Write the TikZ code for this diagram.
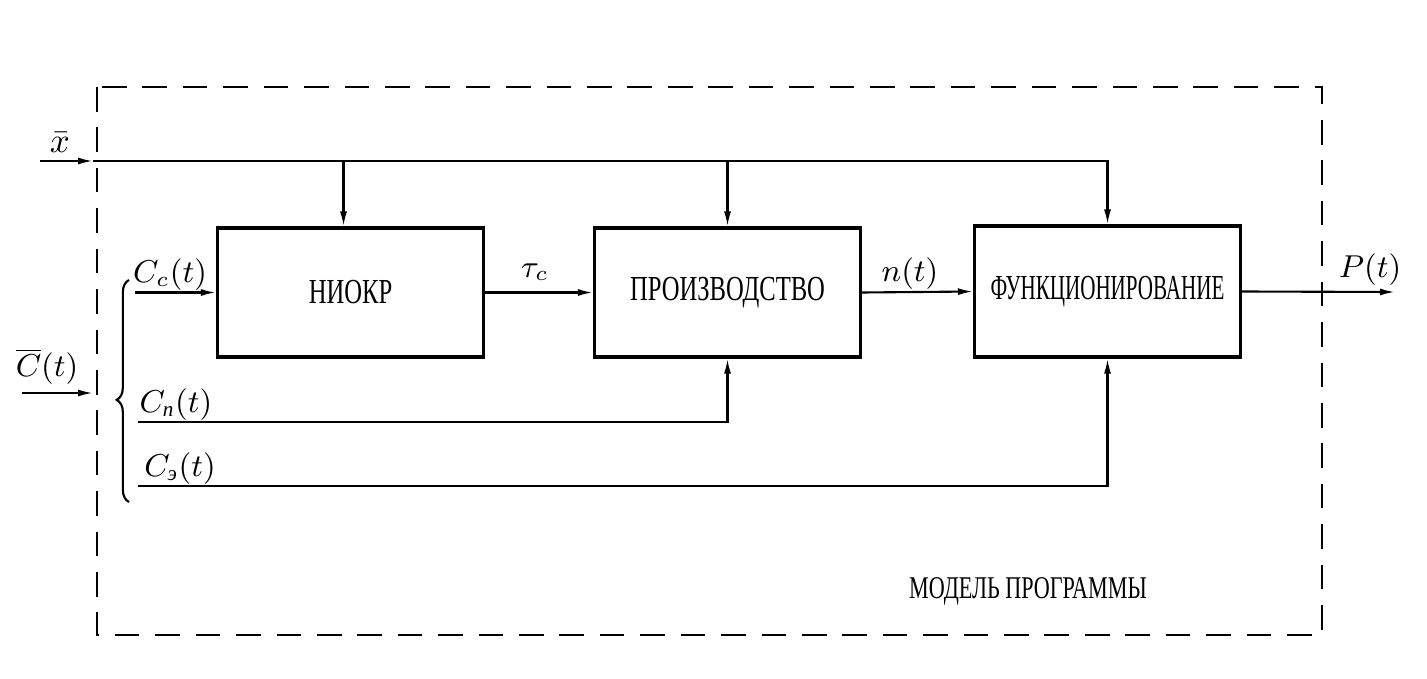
\documentclass[tikz,border=0pt]{standalone}
\usepackage{fontspec}
\usepackage{amsmath}
\setmainfont{Liberation Serif}
\newfontfamily\boxfont{Liberation Serif}[FakeStretch=0.7]
\newfontfamily\narrowfont{Liberation Serif}[FakeStretch=0.6]
\usetikzlibrary{arrows.meta,decorations.pathreplacing}

\begin{document}
\begin{tikzpicture}[
    block/.style = { draw, line width=0.9pt, minimum width=2.66cm, minimum height=1.29cm, font=\boxfont\fontsize{10}{12}\selectfont },
    line/.style = { line width=0.6pt },
    arr/.style = { line width=0.6pt, -{Latex[length=1.5mm,width=0.7mm]} },
    lab/.style = { font=\fontsize{9}{10}\selectfont, inner sep=1pt },
    ]

    \useasboundingbox (0,0) rectangle (14.27,6.78);

    % frame
    \draw[line width=0.7pt, dash pattern=on 7pt off 4.5pt] (0.97,5.91) rectangle (13.22,0.43);
    \node[font=\boxfont\fontsize{9}{10}\selectfont] (model) at (10.28,0.87) {МОДЕЛЬ ПРОГРАММЫ};

    % blocks
    \node[block] (niokr) at (3.505,3.855) {НИОКР};
    \node[block] (proizv) at (7.275,3.855) {ПРОИЗВОДСТВО};
    \node[block, minimum height=1.31cm, font=\narrowfont\fontsize{10}{12}\selectfont] (funk) at (11.075,3.865) {ФУНКЦИОНИРОВАНИЕ};

    % input x
    \coordinate (xin) at (0.40,5.17);
    \coordinate (xfr) at (0.93,5.17);
    \draw[arr] (xin) -- (xfr);
    \draw[arr] (xfr) -- (funk.north |- xin) -- (funk.north);
    \draw[arr] ([xshift=-0.07cm]niokr.north |- xin) -- ([xshift=-0.07cm]niokr.north);
    \draw[arr] (proizv.north |- xin) -- (proizv.north);
    \node[lab, font=\fontsize{10}{12}\selectfont] (lx) at (0.60,5.35) {$\bar{x}$};

    % input costs
    \coordinate (cin) at (0.22,2.85);
    \coordinate (cfr) at (0.93,2.85);
    \draw[arr] (cin) -- (cfr);
    \node[lab, anchor=south] (lc) at (0.47,2.89) {$\overline{C}(t)$};
    \coordinate (bb) at (1.29,1.76);
    \coordinate (bt) at (1.29,3.98);
    \draw[line, decorate, decoration={brace, amplitude=3.5pt, aspect=0.46}] (bb) -- (bt);

    % chain
    \coordinate (ccin) at (1.35,3.855);
    \draw[arr] (ccin) -- (niokr.west);
    \node[lab] (lcc) at (1.70,4.03) {$C_c(t)$};
    \draw[arr] (niokr.east) -- (proizv.west);
    \node[lab] (ltau) at (5.35,4.06) {$\tau_c$};
    \draw[arr] (proizv.east) -- (funk.west);
    \node[lab] (ln) at (9.10,4.04) {$n(t)$};
    \coordinate (pout) at (13.95,3.86);
    \draw[arr] (funk.east) -- (pout);
    \node[lab] (lp) at (13.70,4.08) {$P(t)$};

    % lower inputs
    \coordinate (cpin) at (1.38,2.56);
    \draw[arr] (cpin) -- (cpin -| proizv.south) -- (proizv.south);
    \node[lab] (lcp) at (1.76,2.73) {$C_{\text{\itshape п}}(t)$};
    \coordinate (cein) at (1.38,1.92);
    \draw[arr] (cein) -- (cein -| funk.south) -- (funk.south);
    \node[lab] (lce) at (1.80,2.09) {$C_{\text{\itshape э}}(t)$};

  \end{tikzpicture}
\end{document}
